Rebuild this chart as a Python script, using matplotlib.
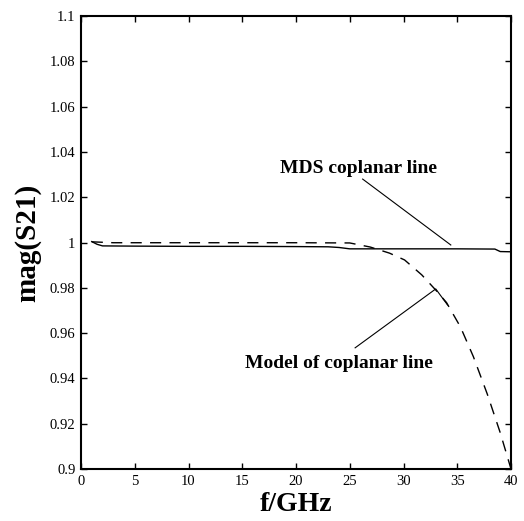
import numpy as np
import matplotlib
matplotlib.use('agg')
from matplotlib import pyplot as plt
from matplotlib.ticker import FuncFormatter

plt.rcParams['font.family'] = ['Liberation Serif', 'DejaVu Serif']

# MDS coplanar line (solid)
f_mds = [1, 1.5, 2, 5, 10, 15, 20, 23, 24, 25, 30, 35, 38.5, 39, 40]
s_mds = [1.0004, 0.9992, 0.9985, 0.9984, 0.9983, 0.9983, 0.9982, 0.9981, 0.9978,
         0.9972, 0.9972, 0.9972, 0.9971, 0.9960, 0.9959]

# model of coplanar line (dashed)
f_mod = [1, 3, 10, 20, 25, 26.9, 28.7, 30.1, 31.7, 33.0, 34.0, 35.3, 36.5,
         37.8, 39.0, 40.0]
s_mod = [1.0003, 0.9999, 0.9999, 0.9999, 0.9998, 0.998, 0.9953, 0.9923, 0.9857,
         0.979, 0.9735, 0.9627, 0.9496, 0.933, 0.916, 0.9]

fig = plt.figure(figsize=(5.24, 5.21), dpi=100)
ax = fig.add_axes([81/524, 52/521, 430/524, 453/521])

ax.plot(f_mds, s_mds, color='black', lw=1.0)
ax.plot(f_mod, s_mod, color='black', lw=1.0, dashes=(8, 6))

ax.set_xlim(0, 40)
ax.set_ylim(0.9, 1.1)
ax.set_xticks(np.arange(0, 41, 5))
ax.set_yticks(np.arange(0.9, 1.1001, 0.02))
ax.yaxis.set_major_formatter(FuncFormatter(lambda v, p: '%g' % round(v, 2)))
ax.tick_params(direction='in', top=True, right=True, length=4, width=1,
               labelsize=10.5, pad=4)
for sp in ax.spines.values():
    sp.set_linewidth(1.5)

ax.set_xlabel('f/GHz', fontsize=20, fontweight='bold', labelpad=3)
ax.set_ylabel('mag(S21)', fontsize=21, fontweight='bold', labelpad=6)

# annotations
ax.plot([26.2, 34.4], [1.028, 0.9989], color='black', lw=0.8)
ax.text(25.8, 1.0325, 'MDS coplanar line', ha='center', va='center',
        fontsize=14, fontweight='bold')
ax.plot([25.5, 33.0, 34.1], [0.9535, 0.9795, 0.9724], color='black', lw=0.8)
ax.text(24.0, 0.9467, 'Model of coplanar line', ha='center', va='center',
        fontsize=14, fontweight='bold')

plt.savefig('out.png', dpi=100)
